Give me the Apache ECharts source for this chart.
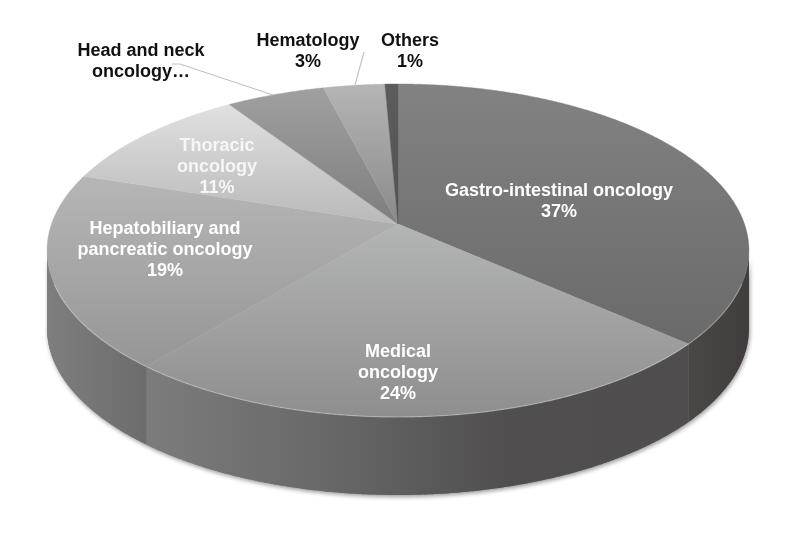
<!DOCTYPE html>
<html>
<head>
<meta charset="utf-8">
<style>html,body{margin:0;padding:0;background:#fff}#c{width:800px;height:560px}</style>
<script src="https://cdn.jsdelivr.net/npm/echarts@6/dist/echarts.min.js"></script>
</head>
<body>
<div id="c"></div>
<script>
// Data, clockwise from twelve o'clock
const categories = ['Gastro-intestinal oncology','Medical oncology','Hepatobiliary and pancreatic oncology','Thoracic oncology','Head and neck oncology','Hematology','Others'];
const sliceValues = [36.5, 24.5, 19, 10.7, 5.3, 3.3, 0.7];
const labelTexts = ['Gastro-intestinal oncology\n37%','Medical\noncology\n24%','Hepatobiliary and\npancreatic oncology\n19%','Thoracic\noncology\n11%','Head and neck\noncology…','Hematology\n3%','Others\n1%'];

// Styles
const topColors = [['#828282','#6a6a6a'],['#b3b5b4','#8e8e8e'],['#b6b6b6','#969696'],['#e0e0e0','#b9b9b9'],['#a0a0a0','#7e7e7e'],['#b5b5b5','#8a8a8a'],['#5c5c5c','#525252']];
const wallColors = [['#4a4745','#403d3c'],['#7c7c7c','#686868','#504e4e','#4f4d4d'],['#7e7e7e','#6c6c6c'],['#888','#777'],['#777','#666'],['#888','#777'],['#444','#444']];
const labelPos = [[559,202],[398,373],[165,250],[217,167],[141,62],[308,52],[410,52]];
const labelFill = ['#fff','#fff','#fff','#f6f6f6','#111','#111','#111'];
const apex = {x:398, y:224}, AX = 346.5, AY = 162.3, K = 0.159, DEPTH = 78;
const SILHOUETTE_Y = apex.y + AY*K/(1-K*K);

const total = sliceValues.reduce((a,b)=>a+b,0);
function project(theta){
  const u = Math.sin(theta), v = -Math.cos(theta), w = 1 - K*v;
  return [apex.x + AX*u/w, apex.y + AY*v/w];
}
function arc(i){
  let cum = 0; for(let k=0;k<i;k++) cum += sliceValues[k];
  const a0 = cum/total*2*Math.PI, a1 = (cum+sliceValues[i])/total*2*Math.PI;
  const n = Math.max(6, Math.ceil((a1-a0)/0.005)), pts = [];
  for(let k=0;k<=n;k++) pts.push(project(a0+(a1-a0)*k/n));
  return pts;
}
function bounds(pts,idx){const a=pts.map(p=>p[idx]);return [Math.min(...a),Math.max(...a)];}
function grad(x,y,x2,y2,c){return {type:'linear',global:true,x,y,x2,y2,colorStops:c.map((col,k)=>({offset:k/(c.length-1),color:col}))};}

const seriesData = sliceValues.map((v,i)=>({name:categories[i],value:[i,v]}));

function wallShape(i){
  const pts = arc(i).filter(p=>p[1]>=SILHOUETTE_Y);
  if(pts.length<2) return null;
  return {pts, poly: pts.concat(pts.slice().reverse().map(p=>[p[0],p[1]+DEPTH]))};
}
function renderWallShadow(params,api){
  const s = wallShape(api.value(0));
  if(!s) return null;
  return {type:'polygon',shape:{points:s.poly},
    style:{fill:'#777',shadowBlur:4,shadowOffsetY:2,shadowOffsetX:1,shadowColor:'rgba(0,0,0,0.4)'}};
}
function renderWall(params,api){
  const i = api.value(0), s = wallShape(i);
  if(!s) return null;
  const xb = bounds(s.pts,0), f = grad(xb[0],0,xb[1],0,wallColors[i]);
  return {type:'polygon',shape:{points:s.poly},style:{fill:f}};
}
function renderTop(params,api){
  const i = api.value(0), pts = arc(i);
  const yb = bounds(pts.concat([[apex.x,apex.y]]),1);
  const f = grad(0,yb[0],0,yb[1],topColors[i]);
  return {type:'group',children:[
    {type:'polygon',shape:{points:[[apex.x,apex.y]].concat(pts)},style:{fill:f,stroke:f,lineWidth:0.4}},
    {type:'polyline',shape:{points:pts.filter(p=>p[1]>apex.y+60)},
      style:{fill:'none',stroke:'rgba(255,255,255,0.3)',lineWidth:1.2}}
  ]};
}
function renderLabel(params,api){
  const i = api.value(0), p = labelPos[i];
  return {type:'text',style:{text:labelTexts[i],x:p[0],y:p[1],align:'center',verticalAlign:'middle',
    fill:labelFill[i],font:'bold 18px "Liberation Sans", Arial, sans-serif',lineHeight:21}};
}
function renderLeaders(params,api){
  return {type:'group',children:[
    {type:'polyline',shape:{points:[[172,64],[180,64],[273,95]]},style:{fill:'none',stroke:'#c4c4c4',lineWidth:1.2}},
    {type:'line',shape:{x1:364,y1:52,x2:355,y2:85},style:{stroke:'#c4c4c4',lineWidth:1.2}}
  ]};
}

const chart = echarts.init(document.getElementById('c'),null,{renderer:'canvas'});
chart.setOption({
  backgroundColor:'#fff',
  animation:false,
  tooltip:{show:false},
  series:[
    {type:'custom',name:'wallShadow',coordinateSystem:'none',z:1,silent:true,renderItem:renderWallShadow,data:seriesData},
    {type:'custom',name:'walls',coordinateSystem:'none',z:2,silent:true,renderItem:renderWall,data:seriesData},
    {type:'custom',name:'slices',coordinateSystem:'none',z:3,silent:true,renderItem:renderTop,data:seriesData},
    {type:'custom',name:'leaders',coordinateSystem:'none',z:4,silent:true,renderItem:renderLeaders,data:[[0,0]]},
    {type:'custom',name:'labels',coordinateSystem:'none',z:5,silent:true,renderItem:renderLabel,data:seriesData}
  ]
});
</script>
</body>
</html>
